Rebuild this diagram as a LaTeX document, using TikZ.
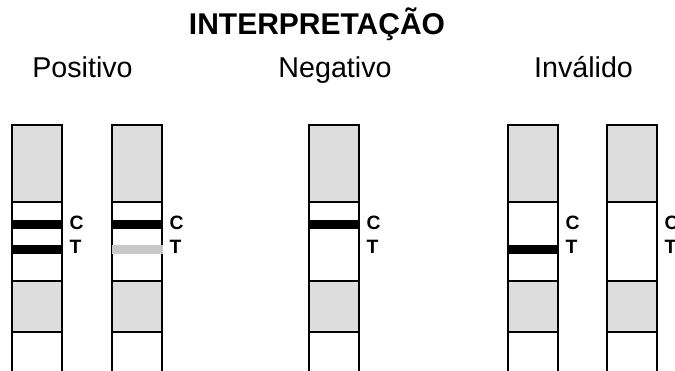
\documentclass[tikz,border=0pt]{standalone}
\usepackage{fontspec}
\setmainfont{Liberation Sans}
\definecolor{padgray}{RGB}{221,221,221}
\definecolor{faintgray}{RGB}{200,200,200}
\tikzset{
	strip/.style={draw=black, line width=1.1pt},
	pad/.style={fill=padgray},
	band/.style={fill=black},
	faint band/.style={fill=faintgray},
	letter/.style={anchor=base west, inner sep=0pt, font=\bfseries\fontsize{14.5}{14.5}\selectfont},
	heading/.style={anchor=base, inner sep=0pt, font=\fontsize{21.5}{21.5}\selectfont}}
\tikzset{every picture/.style={line width=0.75pt}}

\begin{document}
\begin{tikzpicture}[x=0.75pt,y=0.75pt,yscale=-1,xscale=1]
		\useasboundingbox (0,0) rectangle (675,371);

		%Shape: Strip (positive, two lines)
		\fill [pad] (12,125) rectangle (62,202) ;
		\fill [pad] (12,281) rectangle (62,332) ;
		\draw [strip] (12,371) -- (12,125) -- (62,125) -- (62,371) ;
		\draw [strip] (12,202) -- (62,202) ;
		\draw [strip] (12,281) -- (62,281) ;
		\draw [strip] (12,332) -- (62,332) ;
		\fill [band] (11.5,220) rectangle (62.5,229) ;
		\fill [band] (11.5,245) rectangle (62.5,254) ;
		%Shape: Strip (positive, faint test line)
		\fill [pad] (112,125) rectangle (162,202) ;
		\fill [pad] (112,281) rectangle (162,332) ;
		\draw [strip] (112,371) -- (112,125) -- (162,125) -- (162,371) ;
		\draw [strip] (112,202) -- (162,202) ;
		\draw [strip] (112,281) -- (162,281) ;
		\draw [strip] (112,332) -- (162,332) ;
		\fill [band] (111.5,220) rectangle (162.5,229) ;
		\fill [faint band] (111.5,245) rectangle (163,254) ;
		%Shape: Strip (negative)
		\fill [pad] (309,125) rectangle (359,202) ;
		\fill [pad] (309,281) rectangle (359,332) ;
		\draw [strip] (309,371) -- (309,125) -- (359,125) -- (359,371) ;
		\draw [strip] (309,202) -- (359,202) ;
		\draw [strip] (309,281) -- (359,281) ;
		\draw [strip] (309,332) -- (359,332) ;
		\fill [band] (308.5,220) rectangle (359.5,229) ;
		%Shape: Strip (invalid, test line only)
		\fill [pad] (508,125) rectangle (558,202) ;
		\fill [pad] (508,281) rectangle (558,332) ;
		\draw [strip] (508,371) -- (508,125) -- (558,125) -- (558,371) ;
		\draw [strip] (508,202) -- (558,202) ;
		\draw [strip] (508,281) -- (558,281) ;
		\draw [strip] (508,332) -- (558,332) ;
		\fill [band] (507.5,245) rectangle (558.5,254) ;
		%Shape: Strip (invalid, no line)
		\fill [pad] (607,125) rectangle (657,202) ;
		\fill [pad] (607,281) rectangle (657,332) ;
		\draw [strip] (607,371) -- (607,125) -- (657,125) -- (657,371) ;
		\draw [strip] (607,202) -- (657,202) ;
		\draw [strip] (607,281) -- (657,281) ;
		\draw [strip] (607,332) -- (657,332) ;

		% Text Node
		\node [letter] (c1) at (69,229) {C};
		\node [letter] (t1) at (69,253.5) {T};
		\node [letter] (c2) at (169,229) {C};
		\node [letter] (t2) at (169,253.5) {T};
		\node [letter] (c3) at (366,229) {C};
		\node [letter] (t3) at (366,253.5) {T};
		\node [letter] (c4) at (565,229) {C};
		\node [letter] (t4) at (565,253.5) {T};
		\node [letter] (c5) at (664,229) {C};
		\node [letter] (t5) at (664,253.5) {T};

		% Text Node
		\node [heading, font=\bfseries\fontsize{22.5}{22.5}\selectfont] (title) at (317,34) {INTERPRETAÇÃO};
		\node [heading] (pos) at (82.5,77) {Positivo};
		\node [heading] (neg) at (335,77) {Negativo};
		\node [heading] (inv) at (583.5,77) {Inválido};

\end{tikzpicture}
\end{document}
